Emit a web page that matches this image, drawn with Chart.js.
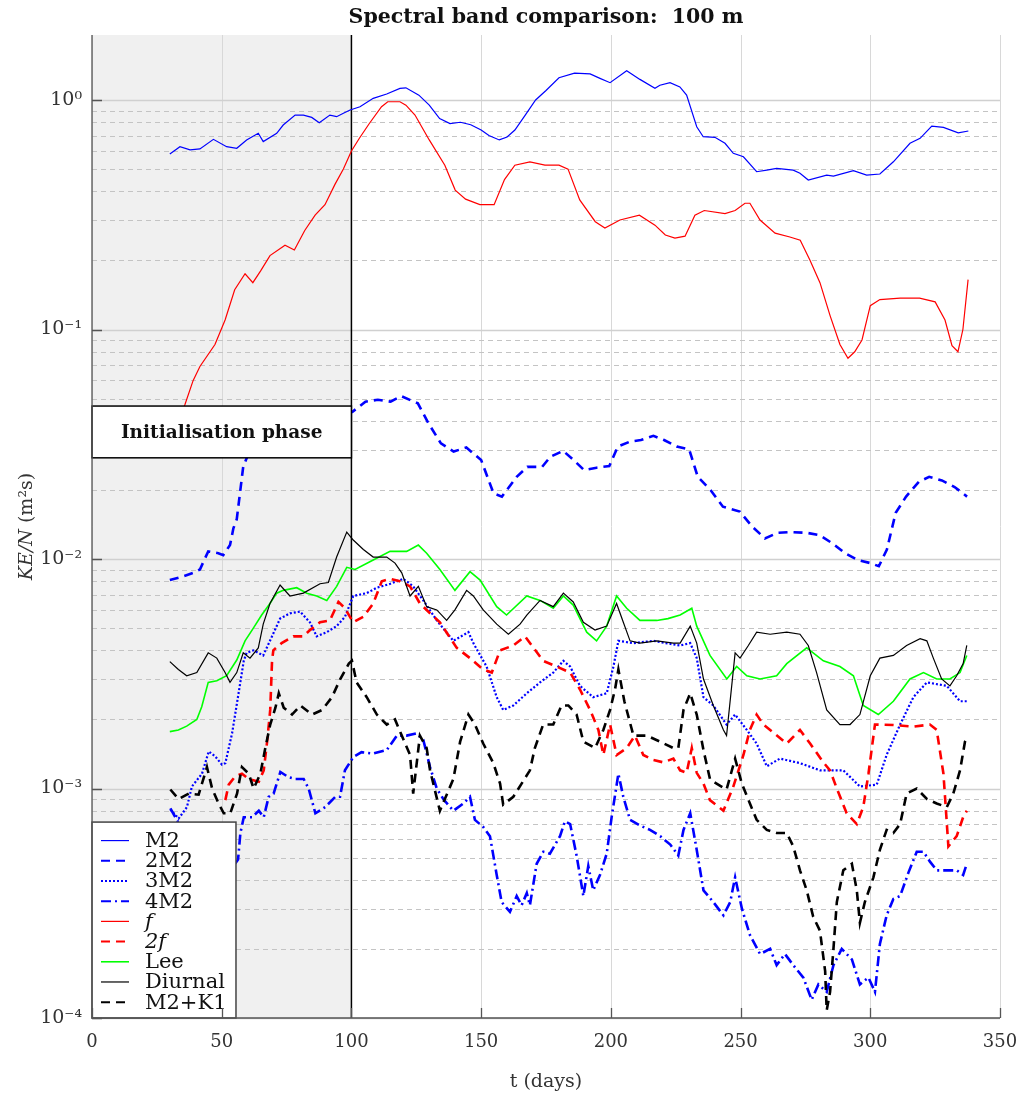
<!DOCTYPE html>
<html>
<head>
<meta charset="utf-8">
<script src="https://cdn.jsdelivr.net/npm/chart.js@4.4.1/dist/chart.umd.min.js"></script>
<style>
  body { margin: 0; background: #fff; }
  #wrap { width: 1019px; height: 1097px; }
</style>
</head>
<body>
<div id="wrap"><canvas id="bandChart" width="1019" height="1097"></canvas></div>
<script>
// ---- data (t in days, KE/N in m^2 s) ----
const xTicks = [0, 50, 100, 150, 200, 250, 300, 350];
const yDecades = [-4, -3, -2, -1, 0];

const m2Days = [30, 33.9, 37.8, 41.6, 46.8, 51.9, 55.8, 59.6, 64.1, 66, 71.2, 73.7, 78.3, 81.5, 84.7, 87.6, 91.7, 94.3, 96.9, 99.5, 103.3, 108.4, 113.6, 118.7, 121, 126, 130, 134, 138, 142, 146, 150, 153, 157, 160, 163, 167, 171, 175, 180, 186, 192, 195.8, 199.7, 206.1, 211.2, 217, 218.9, 222.8, 226.6, 229.2, 233.1, 235.6, 240.1, 244, 247.2, 251.1, 256.2, 260.1, 263.9, 270.3, 272.9, 276.1, 283.2, 285.8, 293.5, 298.6, 303.7, 308.9, 315.3, 319.2, 323.7, 328.2, 333.9, 337.8];
const m2Vals = [0.582, 0.626, 0.606, 0.612, 0.674, 0.626, 0.616, 0.669, 0.716, 0.659, 0.716, 0.778, 0.86, 0.86, 0.84, 0.796, 0.86, 0.846, 0.875, 0.905, 0.935, 1.017, 1.062, 1.124, 1.13, 1.05, 0.95, 0.83, 0.79, 0.8, 0.78, 0.74, 0.7, 0.67, 0.69, 0.74, 0.86, 1.0, 1.1, 1.25, 1.31, 1.3, 1.243, 1.19, 1.342, 1.23, 1.124, 1.16, 1.19, 1.14, 1.05, 0.765, 0.692, 0.688, 0.648, 0.586, 0.566, 0.487, 0.495, 0.504, 0.495, 0.48, 0.448, 0.471, 0.466, 0.492, 0.471, 0.476, 0.538, 0.648, 0.681, 0.77, 0.76, 0.72, 0.733];

const twoM2Days = [30, 35.2, 39, 41.6, 44.8, 48.7, 50.6, 53.2, 54.5, 55.8, 58.3, 62, 70, 80, 90, 100.4, 105.4, 110.2, 115.1, 119.1, 125.6, 129.7, 134.5, 139.4, 144.3, 150, 154.8, 158, 163.7, 167.8, 173.5, 176.7, 181.6, 185.6, 189.7, 194.5, 199.4, 202.7, 207.5, 211.6, 216.4, 220.5, 225.4, 230.2, 233.5, 238.4, 243.2, 249.7, 254.6, 259.4, 264.3, 269.2, 275.6, 280.5, 285.4, 290.3, 295.2, 300, 303.3, 306.4, 309.8, 313.8, 318.7, 322.7, 327.6, 332.5, 337.3];
const twoM2Vals = [0.0081, 0.0084, 0.0087, 0.009, 0.0108, 0.0106, 0.0104, 0.0115, 0.0136, 0.0149, 0.0253, 0.032, 0.036, 0.038, 0.04, 0.0438, 0.0485, 0.0494, 0.0485, 0.0513, 0.0477, 0.039, 0.0319, 0.0294, 0.0306, 0.027, 0.0193, 0.0187, 0.0228, 0.0252, 0.0252, 0.0279, 0.0296, 0.027, 0.0244, 0.025, 0.0254, 0.0309, 0.0325, 0.033, 0.0344, 0.033, 0.0309, 0.03, 0.0228, 0.02, 0.0169, 0.0161, 0.0138, 0.0123, 0.013, 0.0131, 0.013, 0.0127, 0.0117, 0.0106, 0.0099, 0.0096, 0.0093, 0.011, 0.0159, 0.0187, 0.0217, 0.0228, 0.022, 0.0206, 0.0187];

const threeM2Days = [30.2, 33.4, 36.6, 38.5, 42.4, 45, 47.5, 50.1, 51.4, 54, 56.5, 58.5, 59.6, 62.2, 66, 68.6, 72.5, 76.3, 80.2, 84, 86.6, 90.5, 94.3, 97.5, 100.7, 105.9, 109.8, 115, 120, 123.8, 127.7, 132.9, 139.3, 145.1, 147, 152.1, 156, 158.5, 162.4, 167.6, 172.7, 177.8, 181.7, 184.3, 188.1, 193.2, 198.4, 201, 202.9, 208.7, 216.4, 221, 226.7, 230.6, 233.1, 235.7, 239.5, 244.6, 247.9, 252.4, 256.2, 260.1, 265.2, 272.9, 280.6, 289.6, 296, 302.5, 306.3, 311.5, 316.6, 321.8, 329.5, 334.6, 337.2];
const threeM2Vals = [0.00081, 0.00074, 0.00083, 0.00102, 0.00116, 0.00145, 0.00138, 0.00127, 0.00129, 0.00174, 0.0026, 0.0036, 0.0039, 0.004, 0.0038, 0.0044, 0.0055, 0.0058, 0.0059, 0.0053, 0.0046, 0.0048, 0.0051, 0.0056, 0.0069, 0.0071, 0.0075, 0.0078, 0.0082, 0.0076, 0.0066, 0.0054, 0.0044, 0.0048, 0.0043, 0.0034, 0.0025, 0.0022, 0.0023, 0.0026, 0.0029, 0.0032, 0.0036, 0.0034, 0.0028, 0.0025, 0.0026, 0.0034, 0.0044, 0.0043, 0.0044, 0.0043, 0.0042, 0.0043, 0.0037, 0.0025, 0.0023, 0.0019, 0.0021, 0.0018, 0.00157, 0.00125, 0.00135, 0.00129, 0.0012, 0.0012, 0.00102, 0.00104, 0.0014, 0.0019, 0.0025, 0.0029, 0.0028, 0.0024, 0.0024];

const fourM2Days = [30.2, 33, 35, 40, 48, 54, 56.3, 57.2, 58.5, 61.7, 64.3, 66.2, 68.1, 70, 72.6, 75.8, 78.4, 81.6, 83.5, 86.1, 89.9, 93.8, 95.6, 97.5, 100.7, 103.9, 108.4, 113.6, 117.5, 121.3, 125.2, 127.7, 130.3, 132.9, 135.4, 139.3, 143.1, 145.7, 147.6, 150.8, 153.4, 156, 157.9, 161.1, 163.7, 165.6, 167.6, 168.8, 171.4, 174, 176.5, 180.4, 182.3, 184.3, 186.8, 189.4, 191.3, 193.2, 195.8, 198.4, 200.3, 202.9, 204.8, 207.4, 211.2, 215.1, 219, 222.9, 226, 228, 230.6, 233.1, 235.7, 239.5, 243.4, 246, 247.9, 250.5, 253.6, 257.5, 261.4, 263.9, 267.1, 270.3, 274.2, 277.4, 280, 283.2, 285.8, 289, 292.9, 296, 299.3, 301.8, 303.7, 306.3, 308.9, 311.5, 314.7, 317.9, 320.5, 323, 325.6, 329.5, 333.3, 335.8, 337.2];
const fourM2Vals = [0.00082, 0.00072, 0.00062, 0.0005, 0.00045, 0.00045, 0.00049, 0.00064, 0.00075, 0.00075, 0.0008, 0.00075, 0.00092, 0.00095, 0.00118, 0.00112, 0.0011, 0.0011, 0.001, 0.00078, 0.00083, 0.00092, 0.00092, 0.0012, 0.00137, 0.00144, 0.00142, 0.00147, 0.0017, 0.0017, 0.00174, 0.00163, 0.00124, 0.001, 0.0009, 0.0008, 0.00086, 0.00092, 0.00073, 0.00068, 0.00062, 0.00042, 0.00032, 0.00029, 0.00034, 0.00031, 0.00035, 0.00031, 0.00047, 0.00053, 0.00052, 0.00062, 0.00072, 0.0007, 0.00051, 0.00034, 0.00046, 0.00036, 0.00042, 0.00052, 0.00075, 0.00116, 0.00092, 0.00073, 0.00069, 0.00066, 0.00062, 0.00057, 0.00051, 0.00066, 0.00078, 0.00054, 0.00036, 0.00032, 0.00028, 0.00032, 0.00041, 0.0003, 0.00023, 0.00019, 0.0002, 0.00017, 0.00019, 0.00017, 0.00015, 0.00012, 0.00014, 0.00013, 0.00017, 0.0002, 0.00018, 0.00014, 0.00015, 0.00013, 0.00021, 0.00028, 0.00033, 0.00034, 0.00043, 0.00053, 0.00053, 0.00048, 0.00044, 0.00044, 0.00044, 0.00042, 0.00047];

const fDays = [30, 35.8, 39, 41.6, 47.4, 51.3, 55, 59, 62, 65, 68.6, 74.4, 78, 82, 86, 89.8, 93.7, 96.9, 100, 103, 106.9, 111.6, 114, 118.7, 121, 124.5, 130, 136, 140, 144, 149.5, 155, 159, 163, 168.8, 174.6, 180, 183.5, 188, 194, 197.7, 203.5, 211, 217, 221, 224.7, 228.6, 232.4, 236, 244, 247.9, 251.7, 253.6, 257.5, 263.3, 269, 273, 276.8, 280.6, 284.5, 288.3, 291.4, 294, 296.8, 300, 303.7, 311.5, 319, 325, 328.8, 331.5, 333.8, 335.7, 337.7];
const fVals = [0.033, 0.047, 0.06, 0.069, 0.086, 0.11, 0.149, 0.175, 0.16, 0.18, 0.21, 0.233, 0.222, 0.27, 0.315, 0.35, 0.43, 0.5, 0.6, 0.68, 0.79, 0.935, 0.983, 0.983, 0.95, 0.86, 0.67, 0.52, 0.405, 0.37, 0.35, 0.35, 0.45, 0.52, 0.537, 0.52, 0.52, 0.5, 0.367, 0.295, 0.277, 0.3, 0.315, 0.285, 0.258, 0.25, 0.255, 0.315, 0.33, 0.32, 0.33, 0.355, 0.355, 0.3, 0.263, 0.253, 0.245, 0.2, 0.16, 0.115, 0.086, 0.075, 0.08, 0.09, 0.127, 0.135, 0.137, 0.137, 0.132, 0.11, 0.085, 0.08, 0.1, 0.165];

const twoFDays = [51.4, 52.7, 55.2, 57.8, 60.4, 64.3, 66.2, 67.5, 68.7, 69.4, 69.9, 73.1, 77.6, 81.5, 84, 87.9, 91.7, 95, 97.5, 100.7, 104.6, 108.4, 111.7, 114.9, 118.7, 122.6, 126.4, 130.3, 134.1, 140.6, 145.7, 150.8, 154.1, 157.3, 162.4, 166.9, 169.5, 173.9, 179.1, 184.3, 188.1, 192, 195.2, 197.1, 199.7, 202.2, 206.1, 209.3, 212.5, 216.4, 220.2, 224.1, 226.7, 229.2, 231.2, 233.1, 235.7, 238.2, 243.4, 247.2, 251.1, 253.6, 256.2, 258.8, 261.4, 267.8, 272.9, 276.8, 281.9, 284.5, 287.1, 290.9, 294.8, 297.3, 299.3, 301.8, 308.9, 316.6, 323, 325.6, 328.2, 330.1, 333.3, 335.8, 337.2];
const twoFVals = [0.00089, 0.00104, 0.00113, 0.00116, 0.0011, 0.00107, 0.0012, 0.0016, 0.0022, 0.0036, 0.004, 0.0043, 0.0046, 0.0046, 0.0049, 0.0053, 0.0054, 0.0065, 0.0061, 0.0053, 0.0056, 0.0064, 0.008, 0.0082, 0.008, 0.0076, 0.0064, 0.0058, 0.0053, 0.0041, 0.0037, 0.0033, 0.0032, 0.004, 0.0042, 0.0046, 0.0042, 0.0036, 0.0034, 0.0032, 0.0027, 0.0022, 0.0018, 0.0014, 0.0019, 0.0014, 0.0015, 0.0017, 0.0014, 0.00133, 0.0013, 0.00135, 0.0012, 0.00117, 0.0015, 0.00117, 0.00105, 0.00089, 0.0008, 0.00102, 0.0014, 0.0018, 0.0021, 0.0019, 0.0018, 0.00157, 0.0018, 0.00157, 0.0013, 0.0012, 0.001, 0.00078, 0.0007, 0.00083, 0.00116, 0.0019, 0.00189, 0.00186, 0.0019, 0.0018, 0.00116, 0.00056, 0.00062, 0.00075, 0.0008];

const leeDays = [30, 33.3, 36.5, 40.4, 42.3, 44.8, 48.1, 51.9, 55.8, 59, 62.2, 65.4, 68.6, 71.2, 73.7, 78.9, 82.8, 86.6, 90.5, 94.3, 98.2, 101.4, 108.4, 114.9, 121.3, 125.8, 129, 134.1, 139.9, 145.7, 149.6, 156, 159.8, 167.6, 172.7, 177.8, 181.7, 185.5, 190.7, 194.5, 198.4, 202.2, 206.1, 211.2, 217.7, 222, 226.7, 231.2, 233.1, 238.2, 244.7, 248.5, 252.4, 257.5, 263.9, 267.8, 275.5, 281.9, 288.3, 293.5, 297.3, 303.1, 308.9, 315.3, 320.5, 325.6, 330.7, 334.6, 337.2];
const leeVals = [0.00177, 0.0018, 0.00187, 0.002, 0.00227, 0.0029, 0.00295, 0.0031, 0.00363, 0.0044, 0.005, 0.0057, 0.0064, 0.0071, 0.0073, 0.0075, 0.0071, 0.0069, 0.0066, 0.0076, 0.0092, 0.009, 0.0099, 0.0108, 0.0108, 0.0115, 0.0106, 0.009, 0.0073, 0.0088, 0.0081, 0.0062, 0.0057, 0.0069, 0.0066, 0.0061, 0.0069, 0.0063, 0.0048, 0.0044, 0.0051, 0.0069, 0.0061, 0.0054, 0.0054, 0.0055, 0.0057, 0.0061, 0.0051, 0.0038, 0.003, 0.0034, 0.0031, 0.003, 0.0031, 0.0035, 0.0041, 0.0036, 0.0034, 0.0031, 0.0023, 0.0021, 0.0024, 0.003, 0.0032, 0.003, 0.003, 0.0032, 0.0038];

const diurnalDays = [30, 33.3, 36.5, 40.4, 44.8, 48.1, 51.3, 53.2, 55.8, 58.3, 60.9, 64.1, 66, 68.6, 72.5, 76.3, 81.5, 87.9, 91.1, 94.3, 98.2, 100.7, 104.6, 108.4, 113.6, 116.8, 119.4, 122.6, 125.8, 129, 132.9, 136.7, 139.9, 144.4, 147, 150.8, 156, 160.5, 165, 167.6, 172.7, 177.8, 181.7, 185.5, 189.4, 193.9, 198.4, 202.2, 204.8, 207.4, 211.2, 217.7, 224.1, 226.7, 230.6, 233.1, 235.7, 239.5, 243.4, 244.6, 247.9, 249.8, 253, 256.2, 261.4, 267.8, 272.9, 276.1, 279.3, 283.2, 288.3, 292.2, 296, 300, 303.7, 308.9, 314, 319.2, 321.8, 324.3, 327.5, 330.7, 333.3, 335.8, 337.2];
const diurnalVals = [0.00357, 0.0033, 0.0031, 0.0032, 0.0039, 0.0037, 0.0032, 0.0029, 0.0032, 0.0039, 0.0037, 0.0041, 0.0052, 0.0064, 0.0077, 0.0069, 0.0071, 0.0078, 0.0079, 0.0102, 0.0131, 0.0121, 0.011, 0.0102, 0.0102, 0.0096, 0.0087, 0.0069, 0.0076, 0.0062, 0.006, 0.0054, 0.006, 0.0073, 0.0069, 0.006, 0.0052, 0.0047, 0.0052, 0.0057, 0.0066, 0.0062, 0.0071, 0.0065, 0.0053, 0.0049, 0.0051, 0.0064, 0.0053, 0.0044, 0.0043, 0.0044, 0.0043, 0.0043, 0.0051, 0.0043, 0.003, 0.0023, 0.0018, 0.0017, 0.0039, 0.0037, 0.0042, 0.0048, 0.0047, 0.0048, 0.0047, 0.0042, 0.0032, 0.0022, 0.0019, 0.0019, 0.0021, 0.0031, 0.0037, 0.0038, 0.0042, 0.0045, 0.0044, 0.0037, 0.003, 0.0028, 0.0031, 0.0035, 0.0042];

const m2k1Days = [30.2, 33.4, 37.3, 41.1, 44.3, 46.3, 48.8, 50.8, 53.3, 55.9, 57.8, 60.4, 62.3, 64.9, 66.8, 68.7, 70.7, 72, 73.9, 77.1, 80.3, 84.8, 88.7, 92.5, 95.7, 99, 100.2, 102, 105.9, 109.8, 113.6, 116.8, 119.4, 122.6, 123.8, 126.4, 129, 130.3, 134.1, 136, 139.3, 141.9, 145.1, 147.6, 150.8, 154.7, 157.3, 158.5, 162.4, 165.6, 168.8, 170.7, 173.9, 177.8, 181, 183.6, 186.8, 189.4, 193.9, 197.1, 199.7, 201.6, 202.9, 205.2, 208.7, 213.8, 219, 224.1, 226, 228, 230.6, 233.1, 235.7, 238.2, 239.5, 244.6, 247.9, 250.5, 253.6, 256.2, 260.1, 263.9, 267.8, 270.3, 272.9, 275.5, 278, 280.6, 282.6, 283.2, 284.5, 285.8, 287.1, 289.6, 292.9, 294.8, 296, 297.9, 301.2, 303.7, 306.3, 308.9, 311.5, 314, 317.9, 321.8, 325.6, 329.5, 332, 334.6, 336.5, 337.2];
const m2k1Vals = [0.00099, 0.0009, 0.00095, 0.00094, 0.00124, 0.001, 0.00086, 0.00078, 0.00078, 0.00095, 0.00124, 0.00116, 0.001, 0.00116, 0.0015, 0.0019, 0.00225, 0.0026, 0.00225, 0.0021, 0.0023, 0.0021, 0.0022, 0.0025, 0.003, 0.0035, 0.0036, 0.0029, 0.0025, 0.0021, 0.0019, 0.002, 0.0017, 0.0014, 0.00095, 0.0017, 0.0015, 0.0012, 0.0008, 0.0009, 0.0011, 0.0016, 0.0021, 0.0019, 0.00157, 0.00129, 0.00105, 0.00085, 0.00092, 0.00105, 0.0012, 0.0015, 0.0019, 0.0019, 0.0023, 0.0023, 0.0021, 0.0016, 0.0015, 0.0018, 0.0022, 0.0027, 0.0033, 0.0024, 0.0017, 0.0017, 0.0016, 0.0015, 0.0015, 0.0022, 0.0026, 0.0021, 0.00147, 0.0011, 0.00107, 0.00099, 0.00135, 0.00105, 0.00086, 0.00073, 0.00066, 0.00064, 0.00064, 0.00056, 0.00044, 0.00036, 0.000276, 0.00024, 0.00016, 0.000108, 0.00013, 0.0002, 0.00032, 0.00044, 0.00047, 0.00036, 0.00026, 0.00032, 0.00041, 0.00054, 0.00066, 0.00064, 0.0007, 0.00095, 0.001, 0.0009, 0.00086, 0.00083, 0.00095, 0.0012, 0.0016, 0.00166];

const FONT = '"DejaVu Serif", "Liberation Serif", serif';
const SUP = {'0': '⁰', '1': '¹', '2': '²', '3': '³', '4': '⁴', '-': '⁻'};
const supText = s => String(s).split('').map(c => SUP[c]).join('');

function pts(days, vals) {
  return days.map((d, i) => ({x: d, y: vals[i]}));
}

const series = [
  {label: 'M2', days: m2Days, vals: m2Vals, color: '#0000ff', width: 1.2, dash: []},
  {label: '2M2', days: twoM2Days, vals: twoM2Vals, color: '#0000ff', width: 2.6, dash: [9, 6]},
  {label: '3M2', days: threeM2Days, vals: threeM2Vals, color: '#0000ff', width: 2.2, dash: [2, 2]},
  {label: '4M2', days: fourM2Days, vals: fourM2Vals, color: '#0000ff', width: 2.6, dash: [10, 4, 2, 4]},
  {label: 'f', days: fDays, vals: fVals, color: '#ff0000', width: 1.2, dash: [], italic: true},
  {label: '2f', days: twoFDays, vals: twoFVals, color: '#ff0000', width: 2.6, dash: [9, 6], italic: true},
  {label: 'Lee', days: leeDays, vals: leeVals, color: '#00ff00', width: 1.6, dash: []},
  {label: 'Diurnal', days: diurnalDays, vals: diurnalVals, color: '#000000', width: 1.2, dash: []},
  {label: 'M2+K1', days: m2k1Days, vals: m2k1Vals, color: '#000000', width: 2.6, dash: [9, 6]}
];

const decor = {
  id: 'decor',
  beforeDatasetsDraw(chart) {
    const {ctx, chartArea: a, scales: {x, y}} = chart;
    ctx.save();
    const x100 = x.getPixelForValue(100);
    ctx.fillStyle = '#f0f0f0';
    ctx.fillRect(a.left, a.top, x100 - a.left, a.bottom - a.top);

    // vertical grid
    ctx.strokeStyle = '#d8d8d8';
    ctx.lineWidth = 1;
    xTicks.forEach(t => {
      const px = Math.round(x.getPixelForValue(t)) + 0.5;
      ctx.beginPath(); ctx.moveTo(px, a.top); ctx.lineTo(px, a.bottom); ctx.stroke();
    });

    // horizontal grid: decades solid, minor dashed
    yDecades.forEach(e => {
      for (let m = 1; m <= 9; m++) {
        const v = m * Math.pow(10, e);
        if (v > y.max || v < y.min) continue;
        const py = Math.round(y.getPixelForValue(v)) + 0.5;
        ctx.beginPath();
        if (m === 1) {
          ctx.setLineDash([]); ctx.strokeStyle = '#d0d0d0'; ctx.lineWidth = 1.5;
        } else {
          ctx.setLineDash([5, 4]); ctx.strokeStyle = '#c4c4c4'; ctx.lineWidth = 1.2;
        }
        ctx.moveTo(a.left, py); ctx.lineTo(a.right, py); ctx.stroke();
      }
    });
    ctx.setLineDash([]);

    // end of initialisation
    ctx.strokeStyle = '#000';
    ctx.lineWidth = 1.5;
    ctx.beginPath(); ctx.moveTo(x100, a.top); ctx.lineTo(x100, a.bottom); ctx.stroke();
    ctx.restore();
  },
  afterDatasetsDraw(chart) {
    const {ctx, chartArea: a, scales: {x, y}} = chart;
    ctx.save();

    // "Initialisation phase" box
    const bx0 = x.getPixelForValue(0), bx1 = x.getPixelForValue(100);
    const by0 = y.getPixelForValue(0.0464), by1 = y.getPixelForValue(0.0276);
    ctx.fillStyle = '#fff';
    ctx.fillRect(bx0, by0, bx1 - bx0, by1 - by0);
    ctx.strokeStyle = '#000';
    ctx.lineWidth = 1.5;
    ctx.strokeRect(bx0, by0, bx1 - bx0, by1 - by0);
    ctx.fillStyle = '#111';
    ctx.font = 'bold 18.5px ' + FONT;
    ctx.textAlign = 'center';
    ctx.textBaseline = 'middle';
    ctx.fillText('Initialisation phase', (bx0 + bx1) / 2, (by0 + by1) / 2 + 1);

    // legend
    const lx0 = a.left, lx1 = x.getPixelForValue(55.5);
    const ly0 = y.getPixelForValue(0.000714), ly1 = a.bottom;
    ctx.fillStyle = '#fff';
    ctx.fillRect(lx0, ly0, lx1 - lx0, ly1 - ly0);
    ctx.strokeStyle = '#444';
    ctx.lineWidth = 1.5;
    ctx.strokeRect(lx0, ly0, lx1 - lx0, ly1 - ly0);
    series.forEach((s, i) => {
      const ry = ly0 + 18.5 + i * 20.2;
      ctx.strokeStyle = s.color;
      ctx.lineWidth = Math.min(s.width, 2);
      ctx.setLineDash(s.dash);
      ctx.beginPath(); ctx.moveTo(lx0 + 9, ry); ctx.lineTo(lx0 + 37, ry); ctx.stroke();
      ctx.setLineDash([]);
      ctx.fillStyle = '#111';
      ctx.font = (s.italic ? 'italic ' : '') + '21px ' + FONT;
      ctx.textAlign = 'left';
      ctx.textBaseline = 'middle';
      ctx.fillText(s.label, lx0 + 53, ry + 1);
    });

    // axes lines and inner ticks
    ctx.strokeStyle = '#555';
    ctx.lineWidth = 1.3;
    ctx.beginPath();
    ctx.moveTo(a.left, a.top); ctx.lineTo(a.left, a.bottom); ctx.lineTo(a.right, a.bottom);
    ctx.stroke();
    ctx.beginPath();
    yDecades.forEach(e => {
      const py = Math.round(y.getPixelForValue(Math.pow(10, e))) + 0.5;
      ctx.moveTo(a.left, py); ctx.lineTo(a.left + 10, py);
    });
    xTicks.forEach(t => {
      const px = Math.round(x.getPixelForValue(t)) + 0.5;
      ctx.moveTo(px, a.bottom); ctx.lineTo(px, a.bottom - 10);
    });
    ctx.stroke();
    ctx.restore();
  },
  afterDraw(chart) {
    const {ctx, chartArea: a} = chart;
    ctx.save();
    ctx.fillStyle = '#111';
    ctx.textAlign = 'center';
    ctx.textBaseline = 'middle';
    ctx.font = 'bold 20.5px ' + FONT;
    ctx.fillText('Spectral band comparison:  100 m', (a.left + a.right) / 2, 18);

    ctx.fillStyle = '#333';
    ctx.font = '19px ' + FONT;
    ctx.fillText('t (days)', (a.left + a.right) / 2, 1082);

    // y axis title, italic KE/N then units
    ctx.translate(27, (a.top + a.bottom) / 2);
    ctx.rotate(-Math.PI / 2);
    const p1 = 'KE/N', p2 = ' (m²s)';
    ctx.font = 'italic 19px ' + FONT;
    const w1 = ctx.measureText(p1).width;
    ctx.font = '19px ' + FONT;
    const w2 = ctx.measureText(p2).width;
    const start = -(w1 + w2) / 2;
    ctx.textAlign = 'left';
    ctx.font = 'italic 19px ' + FONT;
    ctx.fillText(p1, start, 0);
    ctx.font = '19px ' + FONT;
    ctx.fillText(p2, start + w1, 0);
    ctx.restore();
  }
};

const ctx = document.getElementById('bandChart').getContext('2d');
new Chart(ctx, {
  type: 'line',
  data: {
    datasets: series.map((s, i) => ({
      label: s.label,
      data: pts(s.days, s.vals),
      borderColor: s.color,
      borderWidth: s.width,
      borderDash: s.dash,
      pointRadius: 0,
      fill: false,
      tension: 0,
      order: series.length - i
    }))
  },
  options: {
    responsive: false,
    animation: false,
    layout: {padding: {top: 35, right: 19, left: 0, bottom: 0}},
    plugins: {legend: {display: false}, title: {display: false}, tooltip: {enabled: false}},
    scales: {
      x: {
        type: 'linear', min: 0, max: 350,
        afterBuildTicks: s => { s.ticks = xTicks.map(v => ({value: v})); },
        ticks: {font: {family: FONT, size: 18}, color: '#333', padding: 14, maxRotation: 0},
        grid: {display: false, drawTicks: false},
        border: {display: false},
        afterFit: s => { s.height = 79; s.paddingLeft = 0; s.paddingRight = 0; }
      },
      y: {
        type: 'logarithmic', min: 1e-4, max: 1.92,
        afterBuildTicks: s => { s.ticks = yDecades.map(e => ({value: Math.pow(10, e)})); },
        ticks: {
          font: {family: FONT, size: 19}, color: '#333', padding: 10,
          callback: v => '10' + supText(Math.round(Math.log10(v)))
        },
        grid: {display: false, drawTicks: false},
        border: {display: false},
        afterFit: s => { s.width = 92; s.paddingTop = 0; s.paddingBottom = 0; }
      }
    }
  },
  plugins: [decor]
});
</script>
</body>
</html>
